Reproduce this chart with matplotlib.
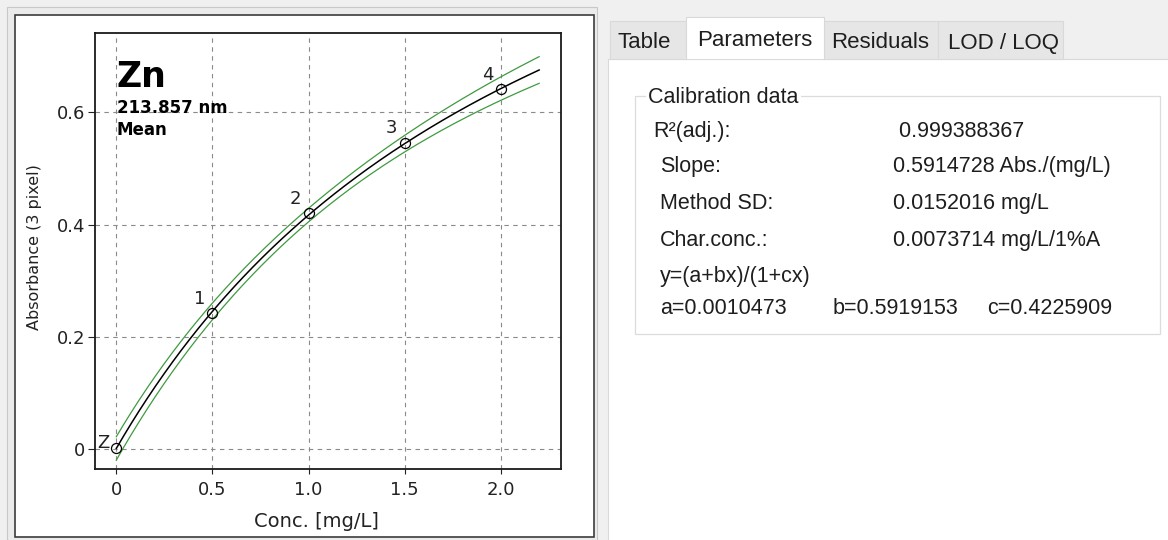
import numpy as np
import matplotlib
matplotlib.use("Agg")
import matplotlib.pyplot as plt
from matplotlib.patches import Rectangle

# ---- calibration standards -------------------------------------------------
std_labels = ["Z", "1", "2", "3", "4"]
std_conc = [0.0, 0.5, 1.0, 1.5, 2.0]              # mg/L
std_abs = [0.001, 0.242, 0.420, 0.546, 0.642]     # absorbance

# ---- rational calibration function y = (a + b x) / (1 + c x) --------------
fit_a = 0.0010473
fit_b = 0.5919153
fit_c = 0.4225909
fit_xmax = 2.2          # curve drawn up to this concentration
band_k = 0.027          # confidence band scale (Abs.)

x_ticks = [0.0, 0.5, 1.0, 1.5, 2.0]
x_ticklabels = ["0", "0.5", "1.0", "1.5", "2.0"]
y_ticks = [0.0, 0.2, 0.4, 0.6]
y_ticklabels = ["0", "0.2", "0.4", "0.6"]

element = "Zn"
wavelength = "213.857 nm"
evaluation = "Mean"

tab_names = ["Table", "Parameters", "Residuals", "LOD / LOQ"]
active_tab = "Parameters"
param_names = ["R\u00b2(adj.):", "Slope:", "Method SD:", "Char.conc.:"]
r2_adj = "0.999388367"
slope = "0.5914728"
method_sd = "0.0152016"
char_conc = "0.0073714"
model_text = "y=(a+bx)/(1+cx)"

# ---- figure ---------------------------------------------------------------
W, H = 1168, 540
fig = plt.figure(figsize=(W / 100, H / 100), dpi=100)
fig.patch.set_facecolor("#f0f0f0")

# background canvas in pixel coordinates (origin top-left)
bg = fig.add_axes([0, 0, 1, 1])
bg.set_xlim(0, W)
bg.set_ylim(H, 0)
bg.axis("off")


def fpx(x, y):
    """pixel position -> figure fraction"""
    return x / W, 1 - y / H


# left chart panel frame
bg.add_patch(Rectangle((7, 7), 590, 534, facecolor="#ebebeb",
                       edgecolor="#c8c8c8", lw=0.8))
bg.add_patch(Rectangle((14.5, 14.5), 579, 522, facecolor="white",
                       edgecolor="#3c3c3c", lw=1.2))

# right tab panel
ui_font = "Liberation Sans"
ui_color = "#1e1e1e"
bg.add_patch(Rectangle((607.5, 58.5), 600, 500, facecolor="white",
                       edgecolor="#d9d9d9", lw=0.8))

tab_x = [610, 686, 824, 938, 1063]
tab_text_x = [618, 697, 831, 948]
for i, name in enumerate(tab_names):
    x0, x1 = tab_x[i], tab_x[i + 1]
    if name == active_tab:
        bg.add_patch(Rectangle((x0, 17), x1 - x0, 42, facecolor="white",
                               edgecolor="none", zorder=3))
        bg.plot([x0, x0, x1, x1], [59, 17, 17, 59], color="#d9d9d9",
                lw=0.8, zorder=4)
        base = 46.5
    else:
        bg.add_patch(Rectangle((x0, 20.5), x1 - x0, 38, facecolor="#e6e6e6",
                               edgecolor="#d9d9d9", lw=0.8, zorder=2))
        base = 48.5
    bg.text(tab_text_x[i], base, name, fontsize=16, family=ui_font,
            color=ui_color, ha="left", va="baseline", zorder=5)

# "Calibration data" group box
bg.add_patch(Rectangle((634.5, 95.5), 525, 238, facecolor="none",
                       edgecolor="#dcdcdc", lw=0.9))
bg.text(648, 103, "Calibration data", fontsize=15.5, family=ui_font,
        color=ui_color, ha="left", va="baseline",
        bbox=dict(facecolor="white", edgecolor="none", pad=1.5))

param_values = [" " + r2_adj, slope + " Abs./(mg/L)", method_sd + " mg/L",
                char_conc + " mg/L/1%A"]
row_base = [137, 172, 209, 246]
for i, (nm, val) in enumerate(zip(param_names, param_values)):
    bg.text(653 if i == 0 else 660, row_base[i], nm, fontsize=15.5,
            family=ui_font, color=ui_color, ha="left", va="baseline")
    bg.text(893, row_base[i], val, fontsize=15.5, family=ui_font,
            color=ui_color, ha="left", va="baseline")

bg.text(660, 282, model_text, fontsize=15.5, family=ui_font,
        color=ui_color, ha="left", va="baseline")
coef_texts = [f"a={fit_a:.7f}", f"b={fit_b:.7f}", f"c={fit_c:.7f}"]
for cx, txt in zip([660, 833, 987], coef_texts):
    bg.text(cx, 314, txt, fontsize=15.5, family=ui_font, color=ui_color,
            ha="left", va="baseline")

# ---- calibration chart ----------------------------------------------------
ax_l, ax_r, ax_t, ax_b = 95, 561, 33, 469
ax = fig.add_axes([ax_l / W, 1 - ax_b / H, (ax_r - ax_l) / W, (ax_b - ax_t) / H])
ax.set_facecolor("white")
ax.set_xlim(-0.1108, 2.3137)
ax.set_ylim(-0.0356, 0.7413)

ax.set_axisbelow(True)
ax.grid(True, color="#8a8a8a", linestyle=(0, (4, 4)), linewidth=0.8)

xs = np.linspace(0.0, fit_xmax, 400)
ys = (fit_a + fit_b * xs) / (1 + fit_c * xs)
conc = np.asarray(std_conc)
xm = conc.mean()
sxx = np.sum((conc - xm) ** 2)
half = band_k * np.sqrt(1 / len(conc) + (xs - xm) ** 2 / sxx)

ax.plot(xs, ys + half, color="#3f9a3f", lw=0.9)
ax.plot(xs, ys - half, color="#3f9a3f", lw=0.9)
ax.plot(xs, ys, color="black", lw=1.1)
ax.plot(std_conc, std_abs, "o", mfc="none", mec="black", ms=7.2, mew=0.9)

for lab, cx, cy in zip(std_labels, std_conc, std_abs):
    off = (-9.0, 3.6) if lab == "Z" else (-9.4, 10.2)
    ax.annotate(lab, (cx, cy), xytext=off, textcoords="offset points",
                ha="center", va="center", fontsize=13, color="#222222",
                family="DejaVu Sans")

ax.set_xticks(x_ticks)
ax.set_xticklabels(x_ticklabels)
ax.set_yticks(y_ticks)
ax.set_yticklabels(y_ticklabels)
ax.tick_params(axis="x", length=3.4, width=0.8, pad=5.0, labelsize=13,
               colors="#222222")
ax.tick_params(axis="y", length=5.0, width=0.8, pad=2.2, labelsize=13,
               colors="#222222")
for sp in ax.spines.values():
    sp.set_color("#1a1a1a")
    sp.set_linewidth(1.3)

ax.set_xlabel("Conc. [mg/L]", fontsize=14, color="#222222")
ax.xaxis.set_label_coords((316 - ax_l) / (ax_r - ax_l), (ax_b - 521.7) / (ax_b - ax_t))
ax.xaxis.label.set_va("center")
ax.set_ylabel("Absorbance (3 pixel)", fontsize=11.5, color="#222222")
ax.yaxis.set_label_coords((35 - ax_l) / (ax_r - ax_l), (ax_b - 247.5) / (ax_b - ax_t))
ax.yaxis.label.set_va("center")

# element / line / evaluation header
ax.text(*fpx(116, 87), element, transform=fig.transFigure, fontsize=25,
        fontweight="bold", ha="left", va="baseline", color="black")
ax.text(*fpx(117, 113), wavelength, transform=fig.transFigure, fontsize=12,
        fontweight="bold", ha="left", va="baseline", color="black")
ax.text(*fpx(117, 135), evaluation, transform=fig.transFigure, fontsize=12,
        fontweight="bold", ha="left", va="baseline", color="black")

fig.savefig("out.png", dpi=100, facecolor=fig.get_facecolor())
